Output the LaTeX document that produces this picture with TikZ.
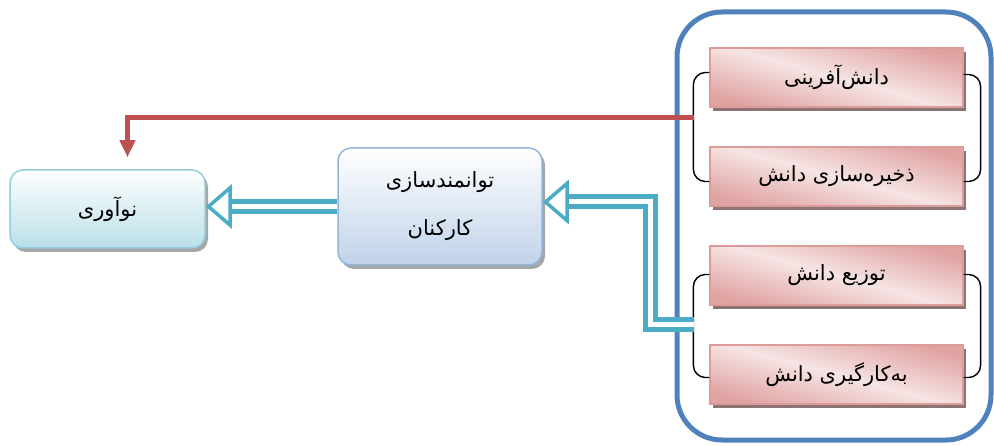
\documentclass[tikz,border=0pt]{standalone}
\usepackage{fontspec}
\newfontfamily\arabicfont[Script=Arabic]{DejaVu Sans}
\TeXXeTstate=1
\usetikzlibrary{positioning,shadows,arrows.meta}
\definecolor{frameblue}{HTML}{4F81BD}
\definecolor{pinkedge}{HTML}{DB9C9A}
\definecolor{pinkdark}{HTML}{E0A3A2}
\definecolor{pinklight}{HTML}{F6E4E4}
\definecolor{steeledge}{HTML}{95B3D7}
\definecolor{steelfill}{HTML}{C0D2EA}
\definecolor{aquaedge}{HTML}{92CDDC}
\definecolor{aquafill}{HTML}{B9DFE8}
\definecolor{aqualine}{HTML}{4BACC6}
\definecolor{redline}{HTML}{C0504D}

\begin{document}
\begin{tikzpicture}[x=1pt,y=1pt,node distance=99pt,
	txt/.style={font=\arabicfont\fontsize{21}{34}\selectfont, text=black, align=center},
	kbox/.style={txt, draw=pinkedge, line width=1.2pt, minimum width=253pt, minimum height=59pt,
		top color=pinkdark, bottom color=pinkdark, middle color=pinklight, shading angle=-15,
		drop shadow={shadow xshift=3pt, shadow yshift=-4pt, fill=black!50!pinkdark, opacity=.8}},
	softbox/.style={txt, line width=1.5pt, rounded corners=13pt,
		drop shadow={shadow xshift=3pt, shadow yshift=-4pt, fill=black!50, opacity=.7}},
	bracket/.style={draw=black, line width=1.4pt, rounded corners=12pt},
	hollow/.style={draw=aqualine, line width=5pt, double=white, double distance=5pt,
		-{Triangle[open, fill=white, width=44pt, length=26pt, line width=3.5pt]}}]
	\useasboundingbox (0,0) rectangle (994,445);

	\draw[frameblue, line width=5pt, rounded corners=45pt] (677,5) rectangle (991,433);

	\node[kbox] (create) at (836.5,367.5) {\beginR دانش‌آفرینی\endR};
	\node[kbox] (store) [below of=create] {\beginR ذخیره‌سازی دانش\endR};
	\node[kbox] (spread) [below of=store] {\beginR توزیع دانش\endR};
	\node[kbox] (apply) [below of=spread] {\beginR به‌کارگیری دانش\endR};

	\node[softbox, draw=steeledge, top color=white, bottom color=steelfill,
		minimum width=204pt, minimum height=117pt] (empower) at (440,238.5)
		{\beginR توانمندسازی\endR\\[14pt] \beginR کارکنان\endR};
	\node[softbox, draw=aquaedge, top color=white, bottom color=aquafill,
		minimum width=195pt, minimum height=78pt] (noav) at (107.5,236)
		{\beginR نوآوری\endR};

	% brackets round the pairs
	\draw[bracket] ([yshift=5pt]create.west) -- ++(-16,0) |- ([yshift=-5pt]store.west);
	\draw[bracket] ([yshift=3pt]create.east) -- ++(17,0) |- ([yshift=-5pt]store.east);
	\draw[bracket] ([yshift=1pt]spread.west) -- ++(-16,0) |- ([yshift=-3pt]apply.west);
	\draw[bracket] ([yshift=1pt]spread.east) -- ++(17,0) |- ([yshift=-3pt]apply.east);

	\coordinate (redout) at (694,327);
	\coordinate (cyanout) at (694,120);

	\draw[redline, line width=5pt, -{Triangle[width=15pt,length=17pt]}]
		(redout) -| ([xshift=20pt,yshift=12pt]noav.north);
	\draw[hollow] (empower.west) -- (empower.west -| noav.east);
	\draw[hollow] (cyanout) -- (650,120) |- ([yshift=4.5pt]empower.east);
\end{tikzpicture}
\end{document}
